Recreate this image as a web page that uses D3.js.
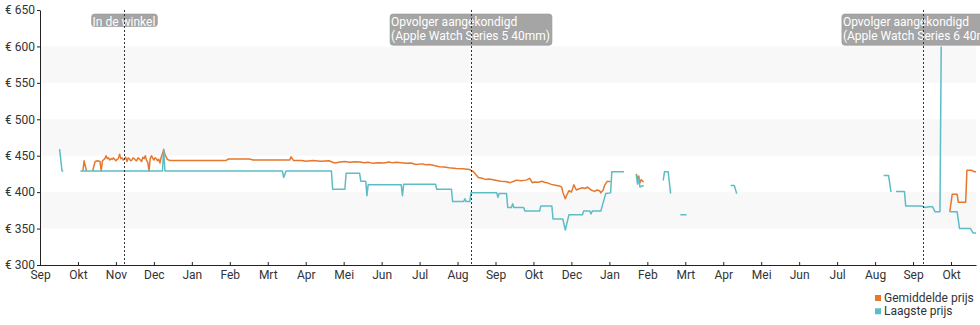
<!DOCTYPE html>
<html>
<head>
<meta charset="utf-8">
<script src="https://cdn.jsdelivr.net/npm/d3@7"></script>
<style>
  body { margin: 0; background: #fff; }
  svg { display: block; font-family: Roboto, "Noto Sans", sans-serif; }
</style>
</head>
<body>
<svg id="chart" width="980" height="325"></svg>
<script>
// Axis ticks: one every 31 days, labelled with the month they fall in
const tickDates = ["2018-09-23","2018-10-24","2018-11-24","2018-12-25","2019-01-25","2019-02-25",
  "2019-03-28","2019-04-28","2019-05-29","2019-06-29","2019-07-30","2019-08-30","2019-09-30",
  "2019-10-31","2019-12-01","2020-01-01","2020-02-01","2020-03-03","2020-04-03","2020-05-04",
  "2020-06-04","2020-07-05","2020-08-05","2020-09-05","2020-10-06"];
const tickLabels = ["Sep","Okt","Nov","Dec","Jan","Feb","Mrt","Apr","Mei","Jun","Jul","Aug","Sep",
  "Okt","Dec","Jan","Feb","Mrt","Apr","Mei","Jun","Jul","Aug","Sep","Okt"];
const priceTicks = [300, 350, 400, 450, 500, 550, 600, 650];
const shadedBands = [[350, 400], [450, 500], [550, 600]];

// Average price (euro); null marks a period without data
const gemiddeldePrijs = [
  ["2018-10-28",429],["2018-10-29",443],["2018-10-31",429],["2018-11-02",null],
  ["2018-11-05",429],["2018-11-07",442],["2018-11-09",443],["2018-11-11",442],["2018-11-12",429],
  ["2018-11-13",443],["2018-11-15",446],["2018-11-16",450],["2018-11-17",446],["2018-11-18",447],
  ["2018-11-19",444],["2018-11-20",446],["2018-11-21",445],["2018-11-22",447],["2018-11-24",443],
  ["2018-11-25",445],["2018-11-26",446],["2018-11-27",452],["2018-11-28",446],["2018-11-29",447],
  ["2018-11-30",444],["2018-12-01",446],["2018-12-02",448],["2018-12-03",442],["2018-12-04",447],
  ["2018-12-05",446],["2018-12-06",443],["2018-12-07",444],["2018-12-08",447],["2018-12-09",446],
  ["2018-12-10",444],["2018-12-11",443],["2018-12-12",447],["2018-12-13",446],["2018-12-14",444],
  ["2018-12-15",442],["2018-12-16",448],["2018-12-17",446],["2018-12-18",450],["2018-12-19",444],
  ["2018-12-20",441],["2018-12-21",429],["2018-12-22",446],["2018-12-23",450],["2018-12-24",447],
  ["2018-12-25",444],["2018-12-26",447],["2018-12-27",446],["2018-12-28",443],["2018-12-29",445],
  ["2018-12-30",440],["2018-12-31",448],["2019-01-02",458],["2019-01-03",452],["2019-01-05",445],
  ["2019-01-07",443.5],
  ["2019-02-22",443.5],["2019-02-24",445.5],["2019-03-13",445.5],["2019-03-16",444],
  ["2019-04-15",444],["2019-04-16",448.5],["2019-04-18",443.5],["2019-04-25",443.5],
  ["2019-04-28",442.5],["2019-05-04",443.5],["2019-05-10",442.5],["2019-05-17",443],
  ["2019-05-20",441],["2019-05-22",440],["2019-05-26",441.5],["2019-05-30",442],["2019-06-03",441],
  ["2019-06-07",441.8],["2019-06-11",441.5],["2019-06-15",440.2],["2019-06-18",441],
  ["2019-06-22",439.5],["2019-06-26",440.5],["2019-07-01",440],["2019-07-05",441.5],
  ["2019-07-08",440.2],["2019-07-11",441],["2019-07-15",440.5],["2019-07-19",439.5],
  ["2019-07-23",440],["2019-07-27",438],["2019-08-01",438.8],["2019-08-04",437.5],
  ["2019-08-07",438],["2019-08-11",436.5],["2019-08-15",435],["2019-08-19",434.5],
  ["2019-08-23",433.5],["2019-08-29",432.5],["2019-09-03",432],
  ["2019-09-09",431],["2019-09-12",428],["2019-09-16",420],["2019-09-19",419],["2019-09-22",417.5],
  ["2019-09-25",418],["2019-09-28",417],["2019-10-01",416],["2019-10-04",415],["2019-10-08",414.5],
  ["2019-10-12",413],["2019-10-15",415],["2019-10-17",416.5],["2019-10-21",415.8],["2019-10-25",416.5],
  ["2019-10-28",419],["2019-10-30",413],["2019-11-01",414],["2019-11-04",413.5],["2019-11-07",415],
  ["2019-11-09",413.5],["2019-11-11",413],["2019-11-14",411],["2019-11-16",410],["2019-11-19",409],
  ["2019-11-22",408],["2019-11-23",407],["2019-11-24",400],["2019-11-26",391],["2019-11-27",395],
  ["2019-11-29",402],["2019-12-01",400],["2019-12-03",410],["2019-12-05",403],["2019-12-08",405],
  ["2019-12-10",406],["2019-12-12",405],["2019-12-14",407],["2019-12-17",403],["2019-12-20",401],
  ["2019-12-22",403],["2019-12-24",402],["2019-12-25",399],["2019-12-27",403],["2019-12-28",409],
  ["2019-12-30",414.5],["2020-01-02",414.5],["2020-01-10",null],
  ["2020-01-23",425],["2020-01-24",418],["2020-01-25",422],["2020-01-26",413],["2020-01-27",417],
  ["2020-01-29",414],["2020-02-03",null],
  ["2020-10-05",373],["2020-10-07",397],["2020-10-11",397],["2020-10-12",386],["2020-10-18",386],
  ["2020-10-19",430],["2020-10-23",430],["2020-10-25",428],["2020-10-28",428]
];

// Lowest price (euro); null marks a period without data
const laagstePrijs = [
  ["2018-10-09",459],["2018-10-11",429],["2018-10-12",429],["2018-10-19",null],
  ["2018-10-26",429],["2019-01-01",429],["2019-01-02",459],["2019-01-03",429],
  ["2019-04-09",429],["2019-04-10",420],["2019-04-12",429],
  ["2019-05-19",429],["2019-05-20",404],["2019-05-30",404],["2019-05-31",426],
  ["2019-06-11",426],["2019-06-12",415],["2019-06-16",415],["2019-06-17",395],["2019-06-18",410],
  ["2019-07-15",410],["2019-07-16",395],["2019-07-17",411],["2019-08-12",411],["2019-08-13",404],
  ["2019-08-25",404],["2019-08-26",387],["2019-09-04",387],["2019-09-05",391],["2019-09-06",387],
  ["2019-09-09",387],["2019-09-10",399],
  ["2019-10-01",399],["2019-10-02",393],["2019-10-03",398],["2019-10-09",398],["2019-10-10",379],
  ["2019-10-13",379],["2019-10-14",384],["2019-10-15",379],["2019-10-23",379],["2019-10-24",374],
  ["2019-11-05",374],["2019-11-06",381],["2019-11-15",381],["2019-11-16",363],["2019-11-24",363],
  ["2019-11-26",348],["2019-11-28",362],["2019-11-29",369],
  ["2019-12-10",369],["2019-12-11",374],["2019-12-16",374],["2019-12-17",370],["2019-12-18",374],
  ["2019-12-25",374],["2019-12-29",398],["2020-01-02",399],["2020-01-03",428],["2020-01-13",428],
  ["2020-01-18",null],
  ["2020-01-23",424],["2020-01-24",411],["2020-01-25",419],["2020-01-26",407],["2020-01-28",409],
  ["2020-01-29",408],["2020-02-05",null],
  ["2020-02-14",416],["2020-02-15",428],["2020-02-18",428],["2020-02-20",398],["2020-02-24",null],
  ["2020-02-28",369],["2020-03-04",369],["2020-03-10",null],
  ["2020-04-09",409],["2020-04-12",409],["2020-04-14",398],["2020-04-20",null],
  ["2020-08-12",423],["2020-08-16",423],["2020-08-18",400],["2020-08-20",null],
  ["2020-08-22",401],["2020-08-29",401],["2020-08-30",381],["2020-09-12",381],["2020-09-15",379],
  ["2020-09-18",380],["2020-09-21",380],["2020-09-23",373],["2020-09-27",373],["2020-09-28",600],
  ["2020-10-02",null],
  ["2020-10-05",373],["2020-10-11",373],["2020-10-13",350],["2020-10-22",350],["2020-10-24",344],
  ["2020-10-28",344]
];

// Marked events
const eventDates = ["2018-12-01", "2019-09-10", "2020-09-13"];
const eventLabels = [
  ["In de winkel"],
  ["Opvolger aangekondigd", "(Apple Watch Series 5 40mm)"],
  ["Opvolger aangekondigd", "(Apple Watch Series 6 40mm)"]
];

const seriesNames = ["Gemiddelde prijs", "Laagste prijs"];
const seriesColors = ["#e8772e", "#5cbdc6"];

// ---- drawing ----
const svg = d3.select("#chart");
const plot = { left: 40, right: 976, top: 10, bottom: 265 };

const x = d3.scaleUtc()
  .domain([new Date("2018-09-23T00:00Z"), new Date("2020-10-26T10:00Z")])
  .range([plot.left, plot.right]);
const y = d3.scaleLinear().domain([300, 650]).range([plot.bottom, plot.top]);

// alternating background bands
svg.append("g").selectAll("rect").data(shadedBands).join("rect")
  .attr("x", plot.left + 1)
  .attr("width", plot.right - plot.left - 1)
  .attr("y", d => y(d[1]))
  .attr("height", d => y(d[0]) - y(d[1]))
  .attr("fill", "#f8f8f8");

// price lines
svg.append("clipPath").attr("id", "plot-clip")
  .append("rect")
  .attr("x", plot.left + 1).attr("y", 0)
  .attr("width", plot.right - plot.left - 1).attr("height", plot.bottom);

const line = d3.line()
  .defined(d => d[1] != null)
  .x(d => x(new Date(d[0] + "T00:00Z")))
  .y(d => y(d[1]));

const lines = svg.append("g").attr("clip-path", "url(#plot-clip)");
[gemiddeldePrijs, laagstePrijs].forEach((series, i) => {
  lines.append("path")
    .datum(series)
    .attr("d", line)
    .attr("fill", "none")
    .attr("stroke", seriesColors[i])
    .attr("stroke-width", 1.5)
    .attr("stroke-linejoin", "round");
});

// axes
const yAxis = svg.append("g")
  .attr("transform", `translate(${plot.left},0)`)
  .call(d3.axisLeft(y).tickValues(priceTicks).tickFormat(d => "€ " + d)
    .tickSizeInner(3).tickSizeOuter(0).tickPadding(2));

const xAxis = svg.append("g")
  .attr("transform", `translate(0,${plot.bottom})`)
  .call(d3.axisBottom(x)
    .tickValues(tickDates.map(d => new Date(d + "T00:00Z")))
    .tickFormat((d, i) => tickLabels[i])
    .tickSizeInner(-3).tickSizeOuter(0).tickPadding(5));
xAxis.selectAll(".tick line").attr("y1", 1);

[xAxis, yAxis].forEach(g => {
  g.attr("font-family", null).attr("font-size", null);
  g.select(".domain").attr("stroke", "#222");
  g.selectAll(".tick line").attr("stroke", "#222");
  g.selectAll(".tick text").attr("fill", "#333").style("font-size", "12px");
});

// event labels
const ev = svg.append("g").style("font-size", "12px");
eventDates.forEach((d, i) => {
  const cx = x(new Date(d + "T00:00Z"));
  const g = ev.append("g");
  const txt = g.append("text").attr("fill", "#fff");
  eventLabels[i].forEach((t, j) => {
    txt.append("tspan").attr("y", 25.5 + j * 14.7).text(t);
  });
  const w = d3.max(txt.selectAll("tspan").nodes(), n => n.getComputedTextLength()) + 3;
  const h = eventLabels[i].length === 1 ? 12.5 : 31.3;
  txt.selectAll("tspan").attr("x", cx - w / 2 + 1);
  g.insert("rect", "text")
    .attr("x", cx - w / 2).attr("y", 14)
    .attr("width", w).attr("height", h)
    .attr("rx", 3)
    .attr("fill", "#a5a5a5")
    .attr("stroke", "#999").attr("stroke-width", 0.6);
});

// event markers
svg.append("g").selectAll("line").data(eventDates).join("line")
  .attr("x1", d => Math.round(x(new Date(d + "T00:00Z"))) + 0.5)
  .attr("x2", d => Math.round(x(new Date(d + "T00:00Z"))) + 0.5)
  .attr("y1", plot.top).attr("y2", plot.bottom)
  .attr("stroke", "#333")
  .attr("stroke-width", 1)
  .attr("stroke-dasharray", "2,2");

// legend
const legend = svg.append("g").style("font-size", "12px");
seriesNames.forEach((name, i) => {
  legend.append("rect")
    .attr("x", 875).attr("y", 295 + i * 13.3)
    .attr("width", 6).attr("height", 6)
    .attr("fill", seriesColors[i]);
  legend.append("text")
    .attr("x", 884).attr("y", 302 + i * 13.3)
    .attr("fill", "#333")
    .text(name);
});
</script>
</body>
</html>
